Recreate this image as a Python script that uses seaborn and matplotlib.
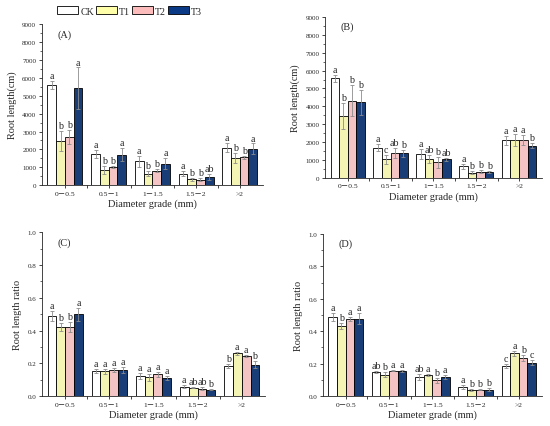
import matplotlib
matplotlib.use('Agg')
import matplotlib.pyplot as plt
from matplotlib.patches import Patch
from matplotlib.ticker import MultipleLocator, FixedLocator
import numpy as np
import pandas as pd
import seaborn as sns

GRADES = ['0－0.5', '0.5－1', '1－1.5', '1.5－2', '>2']
TREATMENTS = ['CK', 'T1', 'T2', 'T3']
COLORS = {'CK': '#FFFFFF', 'T1': '#FFFFAA', 'T2': '#FCBCBC', 'T3': '#0A3A85'}

# rows = grade, columns = CK, T1, T2, T3
A_MEAN = [[5580, 2450, 2680, 5430], [1740, 850, 1000, 1700], [1330, 650, 810, 1210], [650, 320, 300, 450], [2100, 1510, 1550, 2050]]
A_ERR = [[230, 560, 380, 1150], [240, 200, 60, 360], [290, 140, 100, 290], [130, 80, 90, 160], [250, 290, 70, 280]]
A_LET = [['a', 'b', 'b', 'a'], ['a', 'b', 'b', 'a'], ['a', 'b', 'b', 'a'], ['a', 'b', 'b', 'ab'], ['a', 'b', 'b', 'a']]

B_MEAN = [[5580, 3450, 4320, 4230], [1700, 1040, 1400, 1380], [1350, 1050, 870, 1030], [650, 300, 350, 350], [2100, 2120, 2120, 1800]]
B_ERR = [[200, 720, 870, 700], [200, 250, 290, 200], [290, 240, 300, 100], [150, 80, 80, 50], [260, 360, 300, 150]]
B_LET = [['a', 'b', 'b', 'b'], ['a', 'c', 'ab', 'b'], ['a', 'ab', 'b', 'ab'], ['a', 'b', 'b', 'b'], ['a', 'a', 'a', 'b']]

C_MEAN = [[0.49, 0.422, 0.42, 0.50], [0.155, 0.152, 0.162, 0.158], [0.12, 0.115, 0.132, 0.112], [0.058, 0.052, 0.045, 0.040], [0.185, 0.262, 0.242, 0.192]]
C_ERR = [[0.03, 0.025, 0.032, 0.04], [0.012, 0.015, 0.012, 0.018], [0.018, 0.02, 0.018, 0.012], [0.01, 0.004, 0.008, 0.004], [0.012, 0.01, 0.006, 0.02]]
C_LET = [['a', 'b', 'b', 'a'], ['a', 'a', 'a', 'a'], ['a', 'a', 'a', 'a'], ['a', 'ab', 'ab', 'b'], ['b', 'a', 'a', 'b']]

D_MEAN = [[0.49, 0.432, 0.475, 0.478], [0.15, 0.132, 0.156, 0.157], [0.118, 0.13, 0.097, 0.118], [0.058, 0.038, 0.04, 0.04], [0.185, 0.265, 0.235, 0.205]]
D_ERR = [[0.025, 0.018, 0.01, 0.035], [0.007, 0.015, 0.004, 0.006], [0.018, 0.006, 0.015, 0.015], [0.012, 0.005, 0.003, 0.008], [0.01, 0.015, 0.018, 0.015]]
D_LET = [['a', 'b', 'a', 'a'], ['ab', 'b', 'a', 'a'], ['ab', 'a', 'b', 'a'], ['a', 'b', 'b', 'b'], ['c', 'a', 'b', 'c']]

PANELS = [
    ('(A)', A_MEAN, A_ERR, A_LET, 'Root length(cm)', 9000, 1000, [0.076, 0.564, 0.402, 0.377]),
    ('(B)', B_MEAN, B_ERR, B_LET, 'Root length(cm)', 9000, 1000, [0.591, 0.581, 0.394, 0.377]),
    ('(C)', C_MEAN, C_ERR, C_LET, 'Root length ratio', 1.0, 0.2, [0.076, 0.070, 0.406, 0.384]),
    ('(D)', D_MEAN, D_ERR, D_LET, 'Root length ratio', 1.0, 0.2, [0.587, 0.070, 0.398, 0.380]),
]


def to_long(mean, err, letters):
    rows = []
    for gi, g in enumerate(GRADES):
        for ti, t in enumerate(TREATMENTS):
            rows.append({'grade': g, 'treatment': t, 'value': mean[gi][ti],
                         'err': err[gi][ti], 'letter': letters[gi][ti]})
    return pd.DataFrame(rows)


def draw_panel(fig, label, mean, err, letters, ylabel, ymax, ystep, rect):
    ax = fig.add_axes(rect)
    df = to_long(mean, err, letters)
    sns.barplot(data=df, x='grade', y='value', hue='treatment', order=GRADES,
                hue_order=TREATMENTS, palette=COLORS, errorbar=None, width=0.8,
                edgecolor='black', linewidth=0.6, legend=False, ax=ax)
    # bars come out hue by hue, grade by grade inside each hue
    bars = [p for p in ax.patches if p.get_height() > 0]
    i = 0
    for t in TREATMENTS:
        sub = df[df['treatment'] == t]
        for _, row in sub.iterrows():
            p = bars[i]
            i += 1
            xc = p.get_x() + p.get_width() / 2
            ax.errorbar(xc, row['value'], yerr=row['err'], fmt='none', ecolor='#8c8c8c',
                        elinewidth=0.6, capsize=1.6, capthick=0.6)
            ax.text(xc, row['value'] + row['err'] + ymax * 0.006, row['letter'],
                    ha='center', va='bottom', fontsize=7.2)
    ax.set_xlim(-0.53, 4.53)
    ax.set_ylim(0, ymax)
    ax.yaxis.set_major_locator(MultipleLocator(ystep))
    ax.yaxis.set_minor_locator(MultipleLocator(ystep / 2))
    ax.xaxis.set_minor_locator(FixedLocator(np.arange(0.5, 4, 1)))
    if ymax < 2:
        ax.set_yticklabels([f'{v:.1f}' for v in ax.get_yticks()])
    ax.tick_params(axis='y', which='major', labelsize=5, length=2.5, width=0.6, pad=1.5)
    ax.tick_params(axis='y', which='minor', length=1.5, width=0.5)
    ax.tick_params(axis='x', which='major', labelsize=5.4, length=2, width=0.6, pad=2)
    ax.tick_params(axis='x', which='minor', length=2, width=0.6)
    for lab in ax.get_xticklabels():
        lab.set_family(['Liberation Serif', 'Noto Sans CJK SC'])
    ax.set_xlabel('Diameter grade (mm)', fontsize=7.4, labelpad=2)
    ax.set_ylabel(ylabel, fontsize=7.4, labelpad=4)
    ax.text(0.07, 0.94, label, transform=ax.transAxes, fontsize=7.4, va='center')
    for s in ['top', 'right']:
        ax.spines[s].set_visible(False)
    for s in ['left', 'bottom']:
        ax.spines[s].set_linewidth(0.6)
    return ax


def main():
    sns.set_style('ticks')
    plt.rcParams['font.family'] = ['Liberation Serif', 'Noto Sans CJK SC']
    fig = plt.figure(figsize=(5.5, 4.27), dpi=100)
    for panel in PANELS:
        draw_panel(fig, *panel)
    handles = [Patch(facecolor=COLORS[t], edgecolor='black', linewidth=0.6, label=t) for t in TREATMENTS]
    fig.legend(handles=handles, loc='center left', bbox_to_anchor=(0.104, 0.972), ncol=4,
               frameon=False, fontsize=7.2, handlelength=2.1, handleheight=0.85,
               handletextpad=0.2, columnspacing=0.2, borderpad=0, borderaxespad=0)
    fig.savefig('out.png', dpi=100)


if __name__ == '__main__':
    main()
